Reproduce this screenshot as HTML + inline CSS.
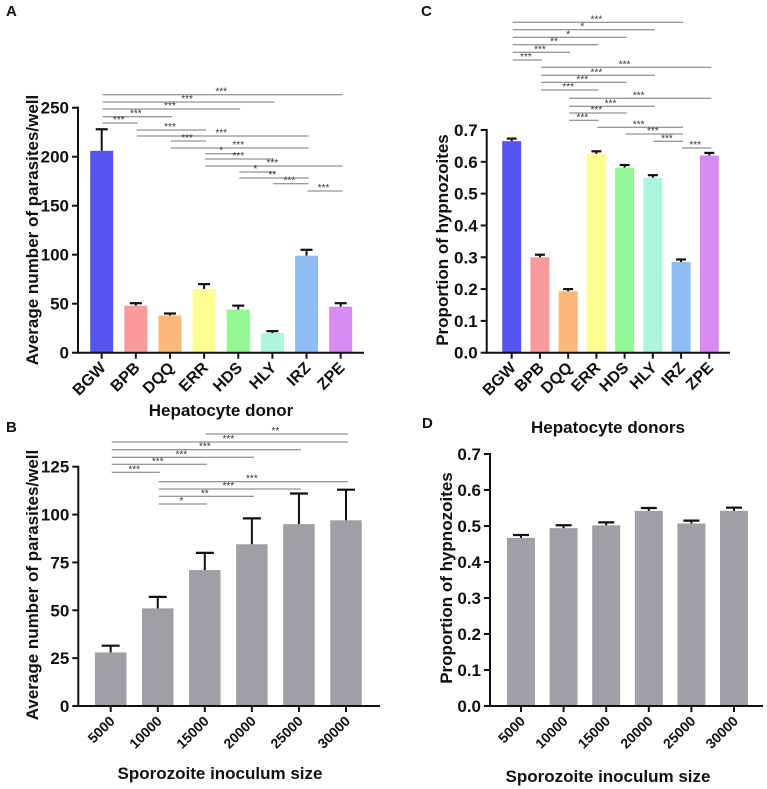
<!DOCTYPE html>
<html><head><meta charset="utf-8"><style>
body{margin:0;background:#fff}
svg{display:block;font-family:"Liberation Sans",Arial,sans-serif}
</style></head><body>
<svg id="fig" width="767" height="789" viewBox="0 0 767 789"></svg>
<script>
const NS="http://www.w3.org/2000/svg";
const svg=document.getElementById('fig');
// Panel A data
const donors=["BGW","BPB","DQQ","ERR","HDS","HLY","IRZ","ZPE"];
const donorColors=["#5555f0","#f99a9a","#fbb87a","#fdfd92","#93f893","#aef5e0","#8fbcf5","#d98af3"];
const parasiteMeans=[206,48,38,65,44,20,99,47];
const parasiteErr=[22,2.5,2,5,4,2,6,3.5];
const sigA=[[0,7,"***"],[0,5,"***"],[0,4,"***"],[0,2,"***"],[0,1,"***"],[1,3,"***"],[1,6,"***"],[2,3,"***"],[2,6,"***"],[3,4,"*"],[3,5,"***"],[3,7,"***"],[4,5,"*"],[4,6,"**"],[5,6,"***"],[6,7,"***"]];
// Panel C data
const hypnoMeans=[0.665,0.300,0.193,0.625,0.582,0.550,0.285,0.620];
const hypnoErr=[0.008,0.008,0.007,0.008,0.008,0.008,0.008,0.008];
const sigC=[[0,6,"***"],[0,5,"*"],[0,4,"*"],[0,3,"**"],[0,2,"***"],[0,1,"***"],[1,7,"***"],[1,5,"***"],[1,4,"***"],[1,3,"***"],[2,7,"***"],[2,5,"***"],[2,4,"***"],[2,3,"***"],[3,6,"***"],[4,6,"***"],[5,6,"***"],[6,7,"***"]];
// Panel B data
const inocula=["5000","10000","15000","20000","25000","30000"];
const inocMeans=[28,51,71,84.5,95,97];
const inocErr=[3.5,6,9,13.5,16,16];
const sigB=[[2,5,"**"],[0,5,"***"],[0,4,"***"],[0,3,"***"],[0,2,"***"],[0,1,"***"],[1,5,"***"],[1,4,"***"],[1,3,"**"],[1,2,"*"]];
// Panel D data
const inocHypno=[0.467,0.494,0.502,0.542,0.507,0.542];
const inocHypnoErr=[0.008,0.008,0.008,0.008,0.008,0.009];
const ticksA=[0,50,100,150,200,250];
const ticksB=[0,25,50,75,100,125];
const ticksP=[0,0.1,0.2,0.3,0.4,0.5,0.6,0.7];

function el(tag,attrs,parent,text){const e=document.createElementNS(NS,tag);for(const k in attrs)e.setAttribute(k,attrs[k]);if(text!==undefined)e.textContent=text;(parent||svg).appendChild(e);return e;}

function panel(o){
  const g=el('g',{});
  
  
  const y=v=>o.y0-(v-o.vmin)/(o.vmax-o.vmin)*(o.y0-o.y1);
  const x=i=>o.xa+i*o.dx;
  o.vals.forEach((v,i)=>{
    const cx=x(i),top=y(v),et=y(v+o.err[i]);
    const b=el('rect',{x:cx-o.bw/2,y:top,width:o.bw,height:o.y0-top,fill:o.colors?o.colors[i]:"#a09fa3"},g);
    
    
    el('line',{x1:cx,x2:cx,y1:top,y2:et,stroke:"#111","stroke-width":2},g);
    el('line',{x1:cx-o.cap,x2:cx+o.cap,y1:et,y2:et,stroke:"#111","stroke-width":2.2},g);
  });
  const ya=el('line',{x1:o.ax,x2:o.ax,y1:o.y0+1,y2:y(o.ticks[o.ticks.length-1])-1,stroke:"#111","stroke-width":2},g);
  
  const xa=el('line',{x1:o.ax-1,x2:o.axEnd,y1:o.y0,y2:o.y0,stroke:"#111","stroke-width":2},g);
  
  o.ticks.forEach(t=>{
    el('line',{x1:o.ax-6,x2:o.ax,y1:y(t),y2:y(t),stroke:"#111","stroke-width":2},g);
    const tl=el('text',{x:o.ax-9,y:y(t)+6,"text-anchor":"end","font-size":17,"font-weight":"bold",fill:"#111"},g,o.fmt(t));
    
  });
  o.cats.forEach((c,i)=>{
    el('line',{x1:x(i),x2:x(i),y1:o.y0,y2:o.y0+6,stroke:"#111","stroke-width":2},g);
    const tl=el('text',{x:x(i)+5,y:o.y0+16,"text-anchor":"end","font-size":o.xfs,"font-weight":"bold",fill:"#111",transform:`rotate(-45 ${x(i)+5} ${o.y0+16})`},g,c);
    
  });
  (o.sig||[]).forEach((s,k)=>{
    const yy=o.sigY[k];
    el('line',{x1:x(s[0])+1,x2:x(s[1])+2,y1:yy,y2:yy,stroke:"#777","stroke-width":1},g);
    const st=el('text',{x:(x(s[0])+x(s[1]))/2,y:yy,"text-anchor":"middle","font-size":10,fill:"#333"},g,s[2]);
    
  });
  const yt=el('text',{x:o.ytx,y:o.yty,"text-anchor":"middle","font-size":17,"font-weight":"bold",fill:"#111",transform:`rotate(-90 ${o.ytx} ${o.yty})`},g,o.ytitle);
  
  const xt=el('text',{x:o.xtx,y:o.xty,"text-anchor":"middle","font-size":17,"font-weight":"bold",fill:"#111"},g,o.xtitle);
  
  const pl=el('text',{x:o.lx,y:o.ly,"font-size":15,"font-weight":"bold",fill:"#111"},g,o.letter);
  
}
panel({name:'panel-a',cats:donors,colors:donorColors,vals:parasiteMeans,err:parasiteErr,vmin:0,vmax:250,y0:352.7,y1:107.7,xa:101.7,dx:34.14,bw:23,cap:6,ax:78,axEnd:364,ticks:ticksA,fmt:t=>String(t),xfs:16,
 sig:sigA,sigY:[94.7,102,109,116.7,123,130,136,141,148,153.7,159,166,172,178,183.7,191],
 ytitle:"Average number of parasites/well",ytx:38,yty:230,xtitle:"Hepatocyte donor",xtx:221,xty:416,letter:"A",lx:6,ly:16});
panel({name:'panel-c',cats:donors,colors:donorColors,vals:hypnoMeans,err:hypnoErr,vmin:0,vmax:0.7,y0:352.7,y1:130,xa:511.7,dx:28.23,bw:19,cap:5,ax:486.7,axEnd:730,ticks:ticksP,fmt:t=>t.toFixed(1),xfs:16,
 sig:sigC,sigY:[22.3,29.7,37.3,44.7,52.3,60,67.3,75.3,82.3,90,98.3,106.3,113,120.3,127.3,134,141.3,148],
 ytitle:"Proportion of hypnozoites",ytx:448,yty:240,xtitle:"Hepatocyte donors",xtx:608,xty:433,letter:"C",lx:421,ly:16});
panel({name:'panel-b',cats:inocula,vals:inocMeans,err:inocErr,vmin:0,vmax:125,y0:706,y1:466.7,xa:110.7,dx:47.06,bw:31.5,cap:9,ax:78.3,axEnd:380,ticks:ticksB,fmt:t=>String(t),xfs:14,
 sig:sigB,sigY:[434,442,449.7,457.3,464.3,472.3,481.7,489,496.3,504],
 ytitle:"Average number of parasites/well",ytx:38,yty:585,xtitle:"Sporozoite inoculum size",xtx:220,xty:779,letter:"B",lx:6,ly:432});
panel({name:'panel-d',cats:inocula,vals:inocHypno,err:inocHypnoErr,vmin:0,vmax:0.7,y0:706,y1:454,xa:521,dx:42.6,bw:28,cap:8,ax:490,axEnd:763,ticks:ticksP,fmt:t=>t.toFixed(1),xfs:14,
 sig:[],sigY:[],
 ytitle:"Proportion of hypnozoites",ytx:452,yty:578,xtitle:"Sporozoite inoculum size",xtx:608,xty:782,letter:"D",lx:422,ly:428});
</script>
</body></html>
